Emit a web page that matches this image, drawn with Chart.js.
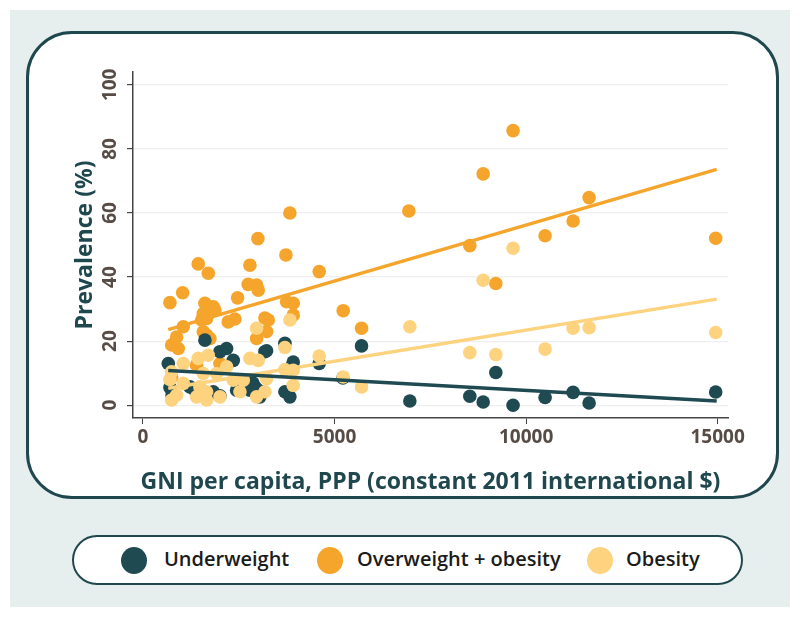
<!DOCTYPE html>
<html>
<head>
<meta charset="utf-8">
<script src="https://cdn.jsdelivr.net/npm/chart.js@4.4.1/dist/chart.umd.min.js"></script>
<style>
  html, body { margin:0; padding:0; width:800px; height:618px; background:#ffffff; overflow:hidden; }
  #outer { position:absolute; left:10px; top:10px; width:780px; height:597px; background:#e7eeee; }
  #panel { position:absolute; left:26px; top:31px; width:747px; height:462px; background:#ffffff;
           border:3px solid #1f474e; border-radius:46px; }
  #legend { position:absolute; left:72px; top:535px; width:667px; height:46px; background:#ffffff;
            border:2.5px solid #1f474e; border-radius:25px; font-family:"Open Sans", sans-serif;
            font-weight:600; font-size:20px; color:#1b1b1b; }
  .dot { position:absolute; top:10px; width:26px; height:27px; border-radius:50%; }
  .lbl { position:absolute; top:-1px; height:46px; line-height:46px; white-space:nowrap; }
  #wrap { position:absolute; left:0; top:0; width:800px; height:618px; }
</style>
</head>
<body>
<div id="outer"></div>
<div id="panel"></div>
<div id="legend">
  <div class="dot" style="left:47px;background:#1f4a51"></div><span class="lbl" style="left:90px">Underweight</span>
  <div class="dot" style="left:243px;background:#f5a52b"></div><span class="lbl" style="left:283px">Overweight + obesity</span>
  <div class="dot" style="left:513px;background:#fdd37f"></div><span class="lbl" style="left:552px">Obesity</span>
</div>
<div id="wrap"><canvas id="c" width="800" height="618"></canvas></div>
<script>
// ---- data (GNI per capita, prevalence %) ----
const xTicks = [0, 5000, 10000, 15000];
const yTicks = [0, 20, 40, 60, 80, 100];

const underweight = [[661,13.0],[704,5.5],[760,3.2],[1226,5.7],[1357,4.7],[1617,20.3],[1835,4.2],[2009,2.9],[2009,16.7],[2183,17.7],[2357,14.0],[2444,4.7],[2792,4.7],[2792,7.8],[2870,6.9],[2922,5.7],[3009,4.7],[3052,2.6],[3183,16.7],[3227,17.0],[3705,19.3],[3705,4.2],[3835,2.6],[3879,12.0],[3922,13.5],[4600,13.0],[5218,8.5],[5705,18.5],[6966,1.3],[8531,2.8],[8880,1.0],[9210,10.2],[9660,0.0],[10496,2.4],[11227,4.0],[11645,0.7],[14949,4.1]];

const overweightObesity = [[704,32.0],[748,18.8],[748,8.8],[878,21.3],[922,17.7],[1035,35.1],[1052,24.5],[1400,12.5],[1443,44.1],[1531,26.6],[1574,28.6],[1574,22.9],[1617,31.8],[1661,27.1],[1661,21.9],[1705,41.2],[1748,20.8],[1835,30.7],[1878,29.7],[2009,13.0],[2226,26.0],[2400,26.9],[2470,33.5],[2747,37.7],[2792,43.7],[2966,37.5],[2966,20.8],[3000,52.0],[3009,35.9],[3183,27.2],[3227,23.0],[3270,26.6],[3731,46.9],[3748,32.3],[3835,60.0],[3922,31.8],[3922,28.1],[4600,41.7],[5226,29.5],[5705,24.0],[6940,60.6],[8531,49.8],[8880,72.2],[9210,38.0],[9660,85.7],[10496,52.9],[11227,57.5],[11645,64.8],[14949,52.1]];

const obesity = [[704,8.0],[748,10.4],[748,1.6],[878,3.1],[1052,13.0],[1052,6.8],[1400,2.6],[1443,14.6],[1487,5.7],[1574,9.9],[1661,4.2],[1661,1.6],[1704,15.6],[1922,9.9],[2009,2.6],[2183,12.0],[2357,7.8],[2531,4.2],[2618,7.8],[2792,14.6],[2966,24.0],[2966,2.6],[3009,14.0],[3183,4.2],[3227,8.3],[3705,18.0],[3705,11.1],[3835,26.6],[3922,10.9],[3922,6.2],[4600,15.3],[5226,8.8],[5705,5.7],[6966,24.5],[8531,16.4],[8880,39.0],[9210,15.8],[9660,49.0],[10496,17.5],[11227,24.0],[11645,24.2],[14949,22.7]];

// linear fit lines (end points)
const underweightFit = [[660,10.8],[14975,1.3]];
const overweightFit = [[660,23.6],[14975,73.6]];
const obesityFit = [[660,5.3],[14975,33.1]];

const DARK = '#1f4a51', ORANGE = '#f5a52b', LIGHT = '#fdd37f';
const pts = a => a.map(p => ({x:p[0], y:p[1]}));

function scatter(label, data, color, order) {
  return { type:'scatter', label, data:pts(data), backgroundColor:color, borderWidth:0,
           pointRadius:6.8, pointHoverRadius:6.8, order };
}
function fit(label, data, color, order) {
  return { type:'line', label, data:pts(data), borderColor:color, borderWidth:3.5,
           pointRadius:0, fill:false, tension:0, order };
}

new Chart(document.getElementById('c'), {
  type:'scatter',
  data:{ datasets:[
    fit('Underweight fit', underweightFit, DARK, 0),
    fit('Obesity fit', obesityFit, LIGHT, 1),
    fit('Overweight + obesity fit', overweightFit, ORANGE, 2),
    scatter('Obesity', obesity, LIGHT, 3),
    scatter('Underweight', underweight, DARK, 4),
    scatter('Overweight + obesity', overweightObesity, ORANGE, 5)
  ]},
  options:{
    responsive:false, animation:false, events:[],
    layout:{ padding:{ left:72, top:72, right:72, bottom:122 } },
    plugins:{ legend:{display:false}, tooltip:{enabled:false} },
    scales:{
      x:{ type:'linear', min:-260, max:15270,
          afterBuildTicks:s => { s.ticks = xTicks.map(v => ({value:v})); },
          afterFit:s => { s.height = 78; },
          grid:{ display:true, drawOnChartArea:false, drawTicks:true, tickLength:6, tickColor:'#444' },
          border:{ display:true, color:'#444', width:1.5 },
          ticks:{ color:'#574b45', padding:2, callback:v => String(v),
                  font:{ family:'Open Sans', size:19, weight:'bold' } },
          title:{ display:true, text:'GNI per capita, PPP (constant 2011 international $)', color:'#1f474e',
                  padding:{top:0,bottom:0}, font:{ family:'Open Sans', size:23, weight:'bold' } } },
      y:{ type:'linear', min:-4, max:104,
          afterBuildTicks:s => { s.ticks = yTicks.map(v => ({value:v})); },
          afterFit:s => { s.width = 61; },
          grid:{ display:true, color:'#eeeeee', lineWidth:1.2, drawTicks:true, tickLength:6, tickColor:'#444' },
          border:{ display:true, color:'#444', width:1.5 },
          ticks:{ color:'#574b45', padding:0, minRotation:90, maxRotation:90, crossAlign:'center',
                  callback:v => String(v),
                  font:{ family:'Open Sans', size:19, weight:'bold' } },
          title:{ display:true, text:'Prevalence (%)', color:'#1f474e',
                  padding:{top:0,bottom:0}, font:{ family:'Open Sans', size:23, weight:'bold' } } }
    }
  }
});
</script>
</body>
</html>
